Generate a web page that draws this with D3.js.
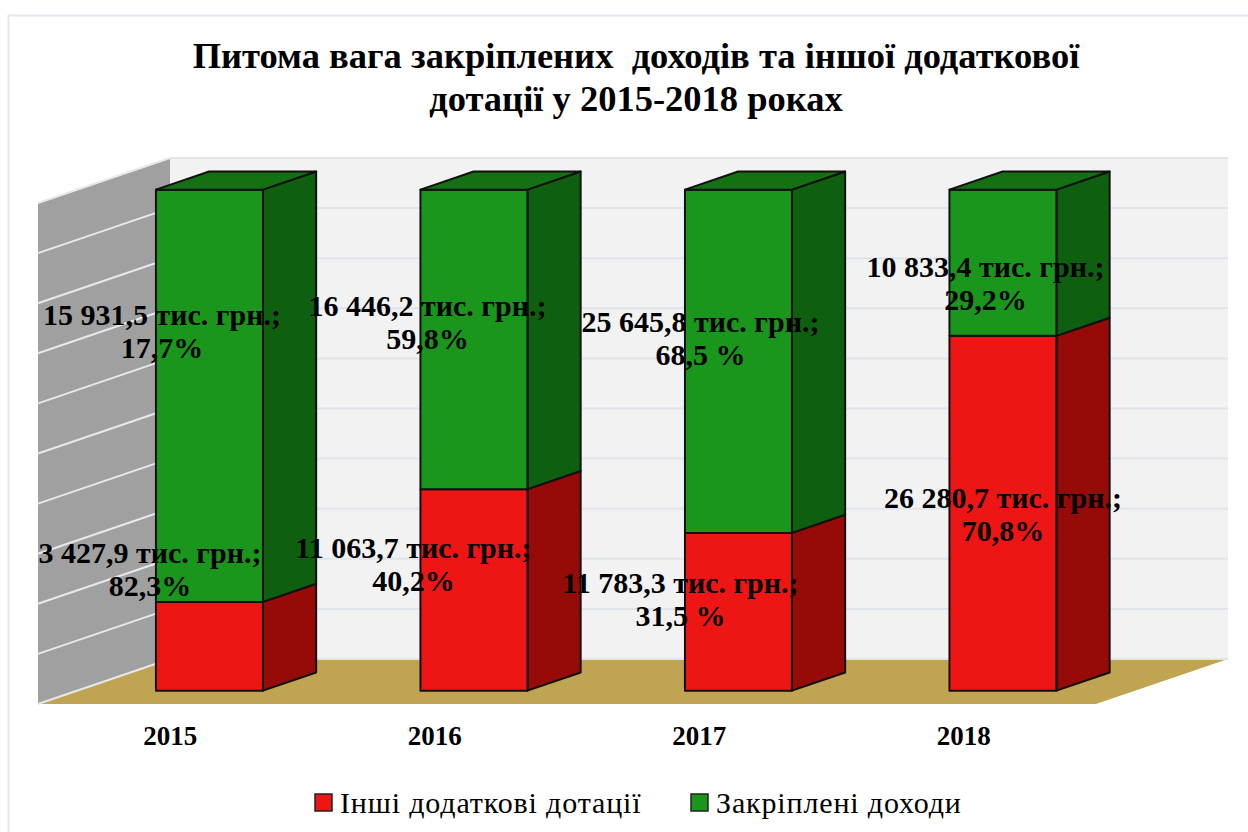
<!DOCTYPE html>
<html>
<head>
<meta charset="utf-8">
<script src="https://cdnjs.cloudflare.com/ajax/libs/d3/7.8.5/d3.min.js"></script>
<style>
  html, body { margin: 0; padding: 0; background: #fff; }
  text { font-family: "Liberation Serif", serif; fill: #000; }
</style>
</head>
<body>
<div id="chart"></div>
<script>
var years = ["2015", "2016", "2017", "2018"];
var otherGrants = [3427.9, 11063.7, 11783.3, 26280.7];
var ownRevenue = [15931.5, 16446.2, 25645.8, 10833.4];
var seriesNames = ["Інші додаткові дотації", "Закріплені доходи"];
var otherLabels = [
    ["3 427,9 тис. грн.;", "82,3%"],
    ["11 063,7 тис. грн.;", "40,2%"],
    ["11 783,3 тис. грн.;", "31,5 %"],
    ["26 280,7 тис. грн.;", "70,8%"]
];
var ownLabels = [
    ["15 931,5 тис. грн.;", "17,7%"],
    ["16 446,2 тис. грн.;", "59,8%"],
    ["25 645,8 тис. грн.;", "68,5 %"],
    ["10 833,4 тис. грн.;", "29,2%"]
];
var titleLines = ["Питома вага закріплених  доходів та іншої додаткової", "дотації у 2015-2018 роках"];

function init() {

    var w = 1248;
    var h = 832;

    // floor corners and how far the chart box goes back
    var left = 38;
    var right = 1096;
    var bottom = 704;
    var top = 203;
    var depthX = 132;
    var depthY = 45;
    var barFront = 0.297;
    var barBack = 0.70;

    // hand placed labels in the original, offset from the segment middle
    var otherShift = [[-59.5, -83], [-60.5, -31.5], [-58, -18.5], [0, -5]];
    var ownShift = [[-47.5, -70.5], [-46.5, -23], [-38, -29], [-17.5, 14.5]];

    var dataset = years.map(function(d, i) {
        return { year: d, other: otherGrants[i], own: ownRevenue[i] };
    });

    var series = d3.stack()
                   .keys(["other", "own"])
                   .offset(d3.stackOffsetExpand)(dataset);

    var svg = d3.select("#chart")
                .append("svg")
                .attr("width", w)
                .attr("height", h)
                .style("display", "block");

    var xScale = d3.scaleBand()
                   .domain(years)
                   .range([left, right])
                   .paddingInner(0.5955)
                   .paddingOuter(0.29775);

    var yScale = d3.scaleLinear()
                   .domain([0, 1])
                   .range([bottom, top]);

    function px(x, depth) { return x + depth * depthX; }
    function py(y, depth) { return y - depth * depthY; }
    function poly(points) {
        return points.map(function(p) { return p[0] + "," + p[1]; }).join(" ");
    }

    // outer frame of the picture
    svg.append("path")
       .attr("d", "M8.5," + h + "V15.5H" + w)
       .attr("fill", "none")
       .attr("stroke", "#e4e7ef")
       .attr("stroke-width", 2);

    // back wall
    svg.append("rect")
       .attr("x", px(left, 1))
       .attr("y", py(top, 1))
       .attr("width", right - left)
       .attr("height", bottom - top)
       .attr("fill", "#f2f2f2");

    // side wall
    svg.append("polygon")
       .attr("points", poly([
           [left, yScale(0)], [left, yScale(1)],
           [px(left, 1), py(yScale(1), 1)], [px(left, 1), py(yScale(0), 1)]
       ]))
       .attr("fill", "#a0a0a0");

    // floor
    svg.append("polygon")
       .attr("points", poly([
           [left, bottom], [right, bottom],
           [px(right, 1), py(bottom, 1)], [px(left, 1), py(bottom, 1)]
       ]))
       .attr("fill", "#bfa451");

    // gridlines on both walls
    var grid = svg.append("g").attr("fill", "none").attr("stroke-width", 2);
    grid.selectAll(".back")
        .data(yScale.ticks(10))
        .enter()
        .append("line")
        .attr("class", "back")
        .attr("x1", px(left, 1))
        .attr("x2", px(right, 1))
        .attr("y1", function(d) { return py(yScale(d), 1); })
        .attr("y2", function(d) { return py(yScale(d), 1); })
        .attr("stroke", "#e0e4ec");
    grid.selectAll(".side")
        .data(yScale.ticks(10))
        .enter()
        .append("line")
        .attr("class", "side")
        .attr("x1", left)
        .attr("x2", px(left, 1))
        .attr("y1", function(d) { return yScale(d); })
        .attr("y2", function(d) { return py(yScale(d), 1); })
        .attr("stroke", "#e6e8ee");

    // bars
    var fills = {
        other: { front: "#ee1614", side: "#960b08", top: "#a80d0a" },
        own: { front: "#1a961c", side: "#0f5f10", top: "#137013" }
    };

    var groups = svg.selectAll(".series")
                    .data(series)
                    .enter()
                    .append("g")
                    .attr("class", "series")
                    .attr("stroke", "#111")
                    .attr("stroke-width", 2)
                    .attr("stroke-linejoin", "round");

    groups.selectAll(".side")
          .data(function(d) { return d.map(function(v) { return { key: d.key, v: v }; }); })
          .enter()
          .append("polygon")
          .attr("class", "side")
          .attr("fill", function(d) { return fills[d.key].side; })
          .attr("points", function(d) {
              var x = xScale(d.v.data.year) + xScale.bandwidth();
              var y0 = yScale(d.v[0]);
              var y1 = yScale(d.v[1]);
              return poly([
                  [px(x, barFront), py(y0, barFront)],
                  [px(x, barBack), py(y0, barBack)],
                  [px(x, barBack), py(y1, barBack)],
                  [px(x, barFront), py(y1, barFront)]
              ]);
          });

    groups.selectAll(".front")
          .data(function(d) { return d.map(function(v) { return { key: d.key, v: v }; }); })
          .enter()
          .append("rect")
          .attr("class", "front")
          .attr("fill", function(d) { return fills[d.key].front; })
          .attr("x", function(d) { return px(xScale(d.v.data.year), barFront); })
          .attr("y", function(d) { return py(yScale(d.v[1]), barFront); })
          .attr("width", xScale.bandwidth())
          .attr("height", function(d) { return yScale(d.v[0]) - yScale(d.v[1]); });

    // lid, only the top series shows one
    groups.filter(function(d) { return d.key === "own"; })
          .selectAll(".lid")
          .data(function(d) { return d; })
          .enter()
          .append("polygon")
          .attr("class", "lid")
          .attr("fill", fills.own.top)
          .attr("points", function(d) {
              var x0 = xScale(d.data.year);
              var x1 = x0 + xScale.bandwidth();
              var y = yScale(d[1]);
              return poly([
                  [px(x0, barFront), py(y, barFront)],
                  [px(x1, barFront), py(y, barFront)],
                  [px(x1, barBack), py(y, barBack)],
                  [px(x0, barBack), py(y, barBack)]
              ]);
          });

    // value labels
    function addLabels(stackIndex, texts, shift) {
        series[stackIndex].forEach(function(d, i) {
            var cx = px(xScale(d.data.year) + xScale.bandwidth() / 2, barFront) + shift[i][0];
            var cy = py((yScale(d[0]) + yScale(d[1])) / 2, barFront) + shift[i][1];
            svg.append("text")
               .attr("class", "value")
               .attr("text-anchor", "middle")
               .attr("font-size", 30)
               .attr("font-weight", "bold")
               .selectAll("tspan")
               .data(texts[i])
               .enter()
               .append("tspan")
               .attr("x", cx)
               .attr("y", function(t, j) { return cy + j * 33; })
               .text(function(t) { return t; });
        });
    }
    addLabels(0, otherLabels, otherShift);
    addLabels(1, ownLabels, ownShift);

    // category axis
    var xAxis = d3.axisBottom(xScale).tickSize(0).tickPadding(0);
    var axisG = svg.append("g")
                   .attr("transform", "translate(0,745)")
                   .call(xAxis);
    axisG.select(".domain").remove();
    axisG.selectAll("text")
         .attr("y", 0)
         .attr("dy", 0)
         .attr("font-family", "Liberation Serif")
         .attr("font-size", 27)
         .attr("font-weight", "bold")
         .style("fill", "#000");

    // title
    svg.selectAll(".title")
       .data(titleLines)
       .enter()
       .append("text")
       .attr("class", "title")
       .attr("x", 636)
       .attr("y", function(d, i) { return 68 + i * 42.5; })
       .attr("text-anchor", "middle")
       .attr("font-size", 36.5)
       .attr("font-weight", "bold")
       .style("white-space", "pre")
       .text(function(d) { return d; });

    // legend
    var legend = svg.selectAll(".legend")
                    .data(seriesNames)
                    .enter()
                    .append("g")
                    .attr("class", "legend")
                    .attr("transform", function(d, i) {
                        return "translate(" + [315, 691][i] + ",794)";
                    });
    legend.append("rect")
          .attr("width", 17)
          .attr("height", 17)
          .attr("stroke", "#222")
          .attr("stroke-width", 1.5)
          .attr("fill", function(d, i) { return i === 0 ? fills.other.front : fills.own.front; });
    legend.append("text")
          .attr("x", 25)
          .attr("y", 19)
          .attr("font-size", 30)
          .style("letter-spacing", "0.85px")
          .text(function(d) { return d; });
}

window.onload = init;
</script>
</body>
</html>
